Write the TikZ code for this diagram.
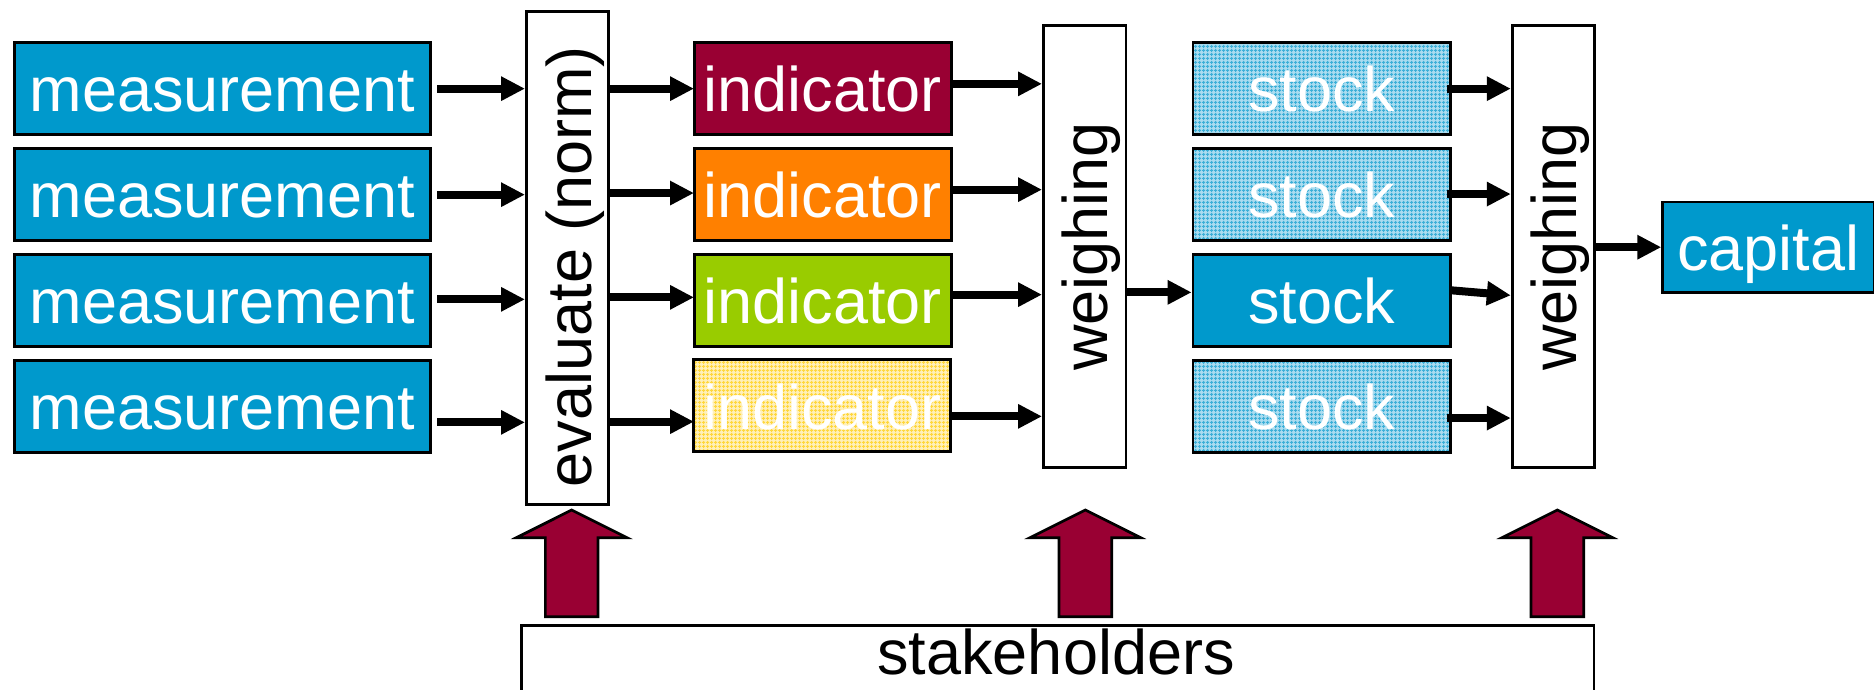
\documentclass[tikz,border=0pt]{standalone}
\usepackage{fontspec}
\setmainfont{Liberation Sans}
\usetikzlibrary{arrows.meta,calc,patterns.meta}
\definecolor{cblue}{RGB}{0,153,204}
\definecolor{cmaroon}{RGB}{153,0,51}
\definecolor{corange}{RGB}{255,128,0}
\definecolor{cgreen}{RGB}{153,204,0}
\definecolor{cpaleblue}{RGB}{170,220,240}
\definecolor{cgridblue}{RGB}{60,175,215}
\definecolor{cpaleyellow}{RGB}{255,240,185}
\definecolor{cgridyellow}{RGB}{255,215,60}
\begin{document}
\begin{tikzpicture}[x=1pt,y=-1pt,
  bigfont/.style={font=\fontsize{63}{70}\selectfont},
  box/.style={draw=black, line width=2.7pt, inner sep=0pt, anchor=north west,
    text=white, bigfont, text height=47pt, text depth=0pt, minimum height=92pt},
  mbox/.style={box, fill=cblue, minimum width=416pt},
  ibox/.style={box, minimum width=257pt},
  sbox/.style={box, minimum width=257.4pt},
  blueweave/.style={preaction={fill=cpaleblue},
    pattern={Hatch[angle=0,distance=4pt,line width=1.3pt]}, pattern color=cgridblue},
  yellowweave/.style={preaction={fill=cpaleyellow},
    pattern={Hatch[angle=0,distance=4pt,line width=1.3pt]}, pattern color=cgridyellow},
  vbox/.style={draw=black, line width=2.7pt, fill=white, inner sep=0pt, anchor=north west, minimum width=82pt},
  vtext/.style={bigfont, rotate=90, anchor=base, inner sep=0pt},
  arr/.style={line width=8pt, line cap=butt, -{Triangle[length=24pt,width=23pt]}},
  stakearrow/.pic={\draw[fill=cmaroon, line width=2.7pt, line join=miter]
    (-26.35,0) -- (-26.35,-79) -- (-55.35,-79) -- (0,-106.7) -- (55.35,-79)
    -- (26.35,-79) -- (26.35,0) -- cycle;}
]
\clip (0,0) rectangle (1874,690);
\fill[white] (0,0) rectangle (1874,690);

% measurement boxes
\node[mbox] (m1) at (13,41) {measurement};
\node[mbox] (m2) at (13,147) {measurement};
\node[mbox] (m3) at (13,253) {measurement};
\node[mbox] (m4) at (13,359) {measurement};

% evaluate box
\node[vbox, minimum height=493pt] (ev) at (525,10) {};
\node[vtext] (evt) at (591,266.5) {evaluate (norm)};

% indicator boxes
\node[ibox, fill=cmaroon] (i1) at (693,41) {indicator};
\node[ibox, fill=corange] (i2) at (693,147) {indicator};
\node[ibox, fill=cgreen] (i3) at (693,253) {indicator};
\node[ibox, yellowweave] (i4) at (693,359) {indicator};

% weighing 1
\node[vbox, minimum height=442pt, minimum width=82.7pt] (w1) at (1042,24) {};
\node[vtext] (w1t) at (1107,246.5) {weighing};

% stock boxes
\node[sbox, blueweave] (s1) at (1191.6,41) {stock};
\node[sbox, blueweave] (s2) at (1191.6,147) {stock};
\node[sbox, fill=cblue] (s3) at (1191.6,253) {stock};
\node[sbox, blueweave] (s4) at (1191.6,359) {stock};

% weighing 2
\node[vbox, minimum height=442pt] (w2) at (1510.8,24) {};
\node[vtext] (w2t) at (1576.5,246.5) {weighing};

% capital
\node[box, fill=cblue, minimum width=211.4pt, minimum height=90.3pt] (cap) at (1661.3,200.7) {capital};

% stakeholders
\node[draw=black, line width=2.7pt, fill=white, inner sep=0pt, anchor=north west,
  minimum width=1072.7pt, minimum height=120pt] (sh) at (520,624) {};
\node[bigfont, anchor=base, inner sep=0pt] (sht) at (1056,674) {stakeholders};

% arrows measurement -> evaluate
\draw[arr] ($(m1.east)+(5.5,0.3)$) -- ($(ev.west |- m1.east)+(0,0.3)$);
\draw[arr] ($(m2.east)+(5.5,0.3)$) -- ($(ev.west |- m2.east)+(0,0.3)$);
\draw[arr] ($(m3.east)+(5.5,-1)$) -- ($(ev.west |- m3.east)+(0,-1)$);
\draw[arr] ($(m4.east)+(5.5,16)$) -- ($(ev.west |- m4.east)+(0,16)$);

% evaluate -> indicators
\draw[arr] ($(ev.east |- i1.west)+(0,0.3)$) -- ($(i1.west)+(1,0.3)$);
\draw[arr] ($(ev.east |- i2.west)+(0,-1.3)$) -- ($(i2.west)+(1,-1.3)$);
\draw[arr] ($(ev.east |- i3.west)+(0,-3)$) -- ($(i3.west)+(1,-3)$);
\draw[arr] ($(ev.east |- i4.west)+(0,16)$) -- ($(i4.west)+(1,16)$);

% indicators -> weighing 1
\draw[arr] ($(i1.east)+(0,-4.5)$) -- ($(w1.west |- i1.east)+(0,-4.5)$);
\draw[arr] ($(i2.east)+(0,-4.7)$) -- ($(w1.west |- i2.east)+(0,-4.7)$);
\draw[arr] ($(i3.east)+(0,-5.7)$) -- ($(w1.west |- i3.east)+(0,-5.7)$);
\draw[arr] ($(i4.east)+(0,10.7)$) -- ($(w1.west |- i4.east)+(0,10.7)$);

% weighing 1 -> stock 3
\draw[arr] ($(w1.east |- s3.west)+(0,-8)$) -- ($(s3.west)+(0,-8)$);

% stocks -> weighing 2
\draw[arr] ($(s1.east)+(-5,0.3)$) -- ($(w2.west |- s1.east)+(0,0.3)$);
\draw[arr] ($(s2.east)+(-5,-0.3)$) -- ($(w2.west |- s2.east)+(0,-0.3)$);
\draw[arr] ($(s3.east)+(0,-10)$) -- ($(w2.west |- s3.east)+(0,-5)$);
\draw[arr] ($(s4.east)+(-5,11.7)$) -- ($(w2.west |- s4.east)+(0,11.7)$);

% weighing 2 -> capital
\draw[arr] (w2.east |- cap.west) -- (cap.west);

% stakeholder arrows
\pic at (571.7,616.7) {stakearrow};
\pic at (1085.3,616.7) {stakearrow};
\pic at (1557.4,616.7) {stakearrow};
\end{tikzpicture}
\end{document}
